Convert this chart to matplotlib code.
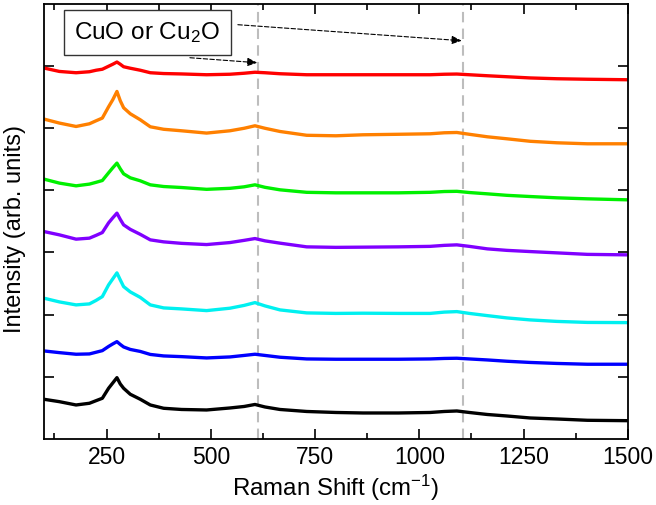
import matplotlib
matplotlib.use("Agg")
import matplotlib.pyplot as plt
from matplotlib.ticker import FixedLocator

plt.rcParams['font.family'] = ['Liberation Sans', 'DejaVu Sans']
plt.rcParams['mathtext.fontset'] = 'custom'
plt.rcParams['mathtext.rm'] = 'Liberation Sans'
plt.rcParams['mathtext.it'] = 'Liberation Sans:italic'
plt.rcParams['mathtext.bf'] = 'Liberation Sans:bold'

# Raman shift (cm^-1)
shift = [100, 137, 177, 209, 225, 240, 255, 265, 275, 283, 291, 307, 331, 355, 387,
         430, 490, 546, 580, 606, 630, 666, 730, 800, 865, 950, 1026, 1060, 1090,
         1120, 1163, 1210, 1266, 1330, 1403, 1500]

# Offset spectra (arb. units), top to bottom
red = [370.7, 367.3, 366, 367, 368.5, 369.5, 372.5, 374.5, 376.7, 374.5, 372, 370.5,
       368.5, 366, 365.2, 364.8, 364, 364.5, 365.5, 366.5, 366, 365, 364, 364, 364,
       364, 364, 364.5, 364.7, 364, 363, 362, 360.8, 360, 359.5, 359]
orange = [319.7, 315.7, 312.3, 315, 318, 320.7, 332, 339, 347.3, 338, 331, 325, 319,
          312, 309.5, 308, 305.7, 308, 310.5, 313, 310.5, 307.3, 303.5, 303, 304,
          304.5, 305, 306, 306.3, 304.5, 302, 300, 297.5, 296, 295, 295]
green = [259.7, 255.7, 253, 254.7, 256.5, 258.3, 266, 271, 275.7, 270, 265, 261, 258,
         254, 252.3, 251.3, 249.5, 250.5, 252, 254, 251.5, 249, 246.5, 246, 246, 246,
         246.5, 247.3, 247.5, 246.3, 245, 243.5, 242.3, 241, 240, 239]
purple = [207.3, 204, 199.7, 200.7, 203.5, 206.3, 216, 221, 225.7, 219.5, 214, 209.5,
          204.5, 199, 197, 195.5, 194.3, 196.3, 198.5, 200.3, 198, 195.7, 192, 191.5,
          191.7, 192, 192.5, 193.5, 194, 192.5, 190, 188.5, 187.3, 186, 184.5, 184]
cyan = [140.7, 137, 134, 135, 138.5, 142.3, 154, 160, 166, 159, 152.3, 147, 141.5, 134,
        131, 130, 128.3, 130.7, 133.5, 136.3, 133, 129, 126, 125.5, 125.7, 125.5,
        125.5, 126.8, 127.3, 125.5, 123.3, 121, 119, 117.5, 116.5, 116.3]
blue = [88, 86.3, 84.7, 85, 86.7, 88.3, 92.5, 95, 97.3, 94.5, 92, 89.5, 87.5, 84.5, 83,
        82.3, 81, 82, 83.5, 84.7, 83.5, 81.7, 80, 79.7, 79.7, 79.7, 80, 80.5, 80.7, 80,
        79, 77.7, 76.5, 75.5, 74.7, 74.7]
black = [39.7, 37.3, 34, 35.7, 38.3, 40.7, 50.7, 56, 61.3, 55, 50.7, 44.7, 39.7, 34,
         30.7, 29.5, 29, 31, 32.5, 34.5, 32, 29.5, 27.5, 26.5, 26, 26, 26.5, 27.5, 28,
         26.5, 24.5, 23, 21, 20, 18.7, 18.3]

series = [red, orange, green, purple, cyan, blue, black]
colors = ['#FF0000', '#FF8000', '#00F000', '#8000FF', '#00F0F0', '#0000FF', '#000000']

peak_lines = [614, 1104]
box_text = 'CuO or Cu$_2$O'

fig = plt.figure(figsize=(6.56, 5.05), dpi=100)
ax = fig.add_axes([0.067, 0.1307, 0.89, 0.861])

for ys, c in zip(series, colors):
    ax.plot(shift, ys, color=c, lw=2.4, solid_joinstyle='round', solid_capstyle='butt')

for xv in peak_lines:
    ax.axvline(xv, color='#BDBDBD', lw=1.5, dashes=(5, 3), zorder=0)

ax.set_xlim(100, 1500)
ax.set_ylim(0, 434.5)

ax.xaxis.set_major_locator(FixedLocator([250, 500, 750, 1000, 1250, 1500]))
ax.xaxis.set_minor_locator(FixedLocator([125, 375, 625, 875, 1125, 1375]))
ax.yaxis.set_major_locator(FixedLocator([62.2 * k for k in range(1, 7)]))
ax.set_yticklabels([])

ax.tick_params(which='both', direction='in', top=True, right=True, width=1.2)
ax.tick_params(which='major', length=7, labelsize=16.5, pad=5)
ax.tick_params(which='minor', length=4)
for s in ax.spines.values():
    s.set_linewidth(1.3)

ax.set_xlabel('Raman Shift (cm$^{-1}$)', fontsize=17.3, labelpad=3)
ax.set_ylabel('Intensity (arb. units)', fontsize=17)
ax.yaxis.set_label_coords(-0.03, 0.483)

ax.text(348, 406, box_text, fontsize=17.5, ha='center', va='center',
        bbox=dict(boxstyle='square,pad=0.42', fc='white', ec='#333333', lw=1.0))

ax.annotate('', xy=(612, 376), xytext=(450, 381),
            arrowprops=dict(arrowstyle='-|>,head_length=0.6,head_width=0.25',
                            linestyle=(0, (4, 2)), color='black', lw=0.8,
                            shrinkA=0, shrinkB=0))
ax.annotate('', xy=(1102, 398), xytext=(565, 414),
            arrowprops=dict(arrowstyle='-|>,head_length=0.6,head_width=0.25',
                            linestyle=(0, (4, 2)), color='black', lw=0.8,
                            shrinkA=0, shrinkB=0))

fig.savefig('out.png', dpi=100)
